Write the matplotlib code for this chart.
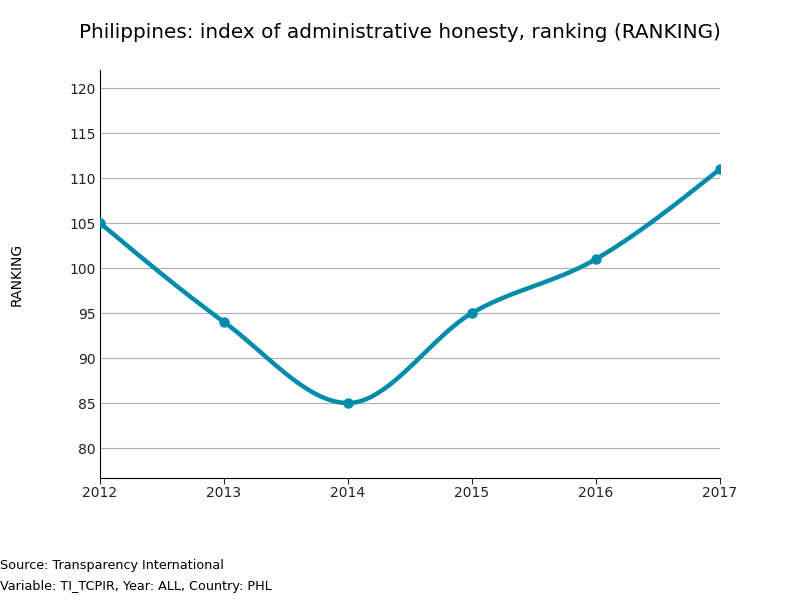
import matplotlib
matplotlib.use("Agg")
import matplotlib.pyplot as plt
import numpy as np

years = [2012, 2013, 2014, 2015, 2016, 2017]
ranking = [105, 94, 85, 95, 101, 111]
yticks = [80, 85, 90, 95, 100, 105, 110, 115, 120]
color = "#008BAA"

def monotone(x, y, n=60):
    x = np.asarray(x, float); y = np.asarray(y, float)
    h = np.diff(x); d = np.diff(y) / h
    m = np.zeros_like(y)
    for i in range(1, len(y) - 1):
        if d[i-1] * d[i] <= 0:
            m[i] = 0
        else:
            m[i] = (np.sign(d[i-1]) + np.sign(d[i])) * min(abs(d[i-1]), abs(d[i]), 0.5 * abs((h[i-1]*d[i] + h[i]*d[i-1]) / (h[i-1] + h[i])))
    m[0] = (3 * d[0] - m[1]) / 2 if len(y) > 2 else d[0]
    m[-1] = (3 * d[-1] - m[-2]) / 2 if len(y) > 2 else d[-1]
    xs, ys = [], []
    for i in range(len(x) - 1):
        t = np.linspace(0, 1, n)
        h00 = 2*t**3 - 3*t**2 + 1; h10 = t**3 - 2*t**2 + t
        h01 = -2*t**3 + 3*t**2; h11 = t**3 - t**2
        xs.append(x[i] + t*h[i])
        ys.append(h00*y[i] + h10*h[i]*m[i] + h01*y[i+1] + h11*h[i]*m[i+1])
    return np.concatenate(xs), np.concatenate(ys)

fig = plt.figure(figsize=(8, 6), dpi=100)
ax = fig.add_axes([0.125, 0.2033, 0.775, 0.68])
sx, sy = monotone(years, ranking)
ax.plot(sx, sy, color=color, lw=3.2, solid_capstyle="round", zorder=3)
ax.plot(years, ranking, "o", color=color, ms=6.5, zorder=4)

ax.set_xlim(2012, 2017)
ax.set_ylim(76.67, 122)
ax.set_yticks(yticks)
ax.set_xticks(years)
ax.set_xticklabels([str(y) for y in years], fontsize=10)
ax.set_yticklabels([str(v) for v in yticks], fontsize=10)
ax.yaxis.grid(True, color="#b0b0b0", lw=0.8)
ax.set_axisbelow(True)
for s in ["top", "right"]:
    ax.spines[s].set_visible(False)
ax.tick_params(axis="y", length=0, pad=3, colors="#222222")
ax.tick_params(axis="x", length=4, pad=2, colors="#222222")
ax.set_ylabel("RANKING", fontsize=10, labelpad=33)

fig.text(0.5, 0.945, "Philippines: index of administrative honesty, ranking (RANKING)",
         ha="center", va="center", fontsize=14.4)
fig.text(0.0, 0.058, "Source: Transparency International", fontsize=9.2, va="center")
fig.text(0.0, 0.023, "Variable: TI_TCPIR, Year: ALL, Country: PHL", fontsize=9.2, va="center")

fig.savefig("out.png", dpi=100)
